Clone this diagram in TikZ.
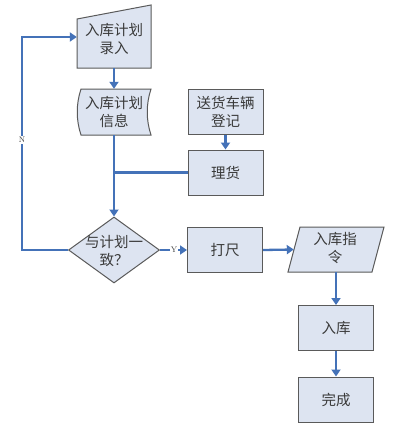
\documentclass[tikz,border=0pt]{standalone}
\usepackage{fontspec}
\newfontfamily\cjk{Noto Sans CJK SC}
\usetikzlibrary{arrows.meta,shapes.geometric}
\definecolor{fillc}{HTML}{DDE4F1}
\definecolor{bordc}{HTML}{5A5A5A}
\definecolor{linec}{HTML}{4472B8}
\definecolor{txtc}{HTML}{3A3A3A}
\tikzset{
  box/.style={draw=bordc, fill=fillc, line width=1pt, minimum width=75pt, minimum height=45pt, inner sep=0pt, text=txtc, font=\cjk\fontsize{14.5}{18}\selectfont, align=center},
  ghost/.style={inner sep=0pt, text=txtc, font=\cjk\fontsize{14.5}{18}\selectfont, align=center},
  shapeline/.style={draw=bordc, fill=fillc, line width=1pt},
  conn/.style={draw=linec, line width=2.3pt},
  arr/.style={conn, -{Triangle[length=7pt,width=9pt]}},
  yn/.style={font=\fontsize{8}{9}\selectfont, text=txtc, fill=white, inner sep=1pt},
}
\begin{document}
\begin{tikzpicture}[x=1pt,y=-1pt]
\useasboundingbox[fill=white] (0,0) rectangle (400,429);
% manual input shape
\draw[shapeline] (77,19) -- (151,5) -- (151,68) -- (77,68) -- cycle;
\node[ghost, minimum width=74pt, minimum height=49pt] (b1) at (114,43.5) {};
\node[ghost] (b1t) at (114,39) {入库计划\\录入};
% stored data shape
\draw[shapeline] (81,89) -- (151,89) .. controls (146,104) and (146,120) .. (151,135) -- (81,135) .. controls (76,120) and (76,104) .. (81,89) -- cycle;
\node[ghost, minimum width=74pt, minimum height=46pt] (b2) at (114,112) {};
\node[ghost] (b2t) at (114,112) {入库计划\\信息};
% right column
\node[box] (song) at (225.5,111.5) {送货车辆\\登记};
\node[box] (lihuo) at (225.5,172.5) {理货};
% diamond
\node[draw=bordc, fill=fillc, line width=1pt, shape=diamond, minimum width=91pt, minimum height=66pt, inner sep=0pt] (d) at (114,250) {};
\node[ghost] (dt) at (114,251) {与计划一\\致？};
\node[box] (dachi) at (225,250) {打尺};
% parallelogram
\draw[shapeline] (300,227) -- (384,227) -- (372,272) -- (288,272) -- cycle;
\node[ghost, minimum width=84pt, minimum height=45pt] (p) at (336,249.5) {};
\node[ghost] (pt) at (335,248) {入库指\\令};
\node[box] (ruku) at (336,328) {入库};
\node[box] (wan) at (336,399.5) {完成};
% connectors
\draw[arr] (b1.south) -- (b2.north);
\draw[arr] (b2.south) -- (d.north);
\draw[conn] (lihuo.west) -- (lihuo.west -| b2.south);
\draw[arr] (song.south) -- (lihuo.north);
\coordinate (nc) at (22,37);
\draw[arr] (d.west) -| (nc) -- (nc -| b1.west);
\node[yn] (nlab) at (22,140) {N};
\draw[arr] (d.east) -- (dachi.west);
\node[yn] (ylab) at (174,250) {Y};
\draw[arr] (dachi.east) -- (p.west);
\draw[arr] (p.south) -- (ruku.north);
\draw[arr] (ruku.south) -- (wan.north);
\end{tikzpicture}
\end{document}
